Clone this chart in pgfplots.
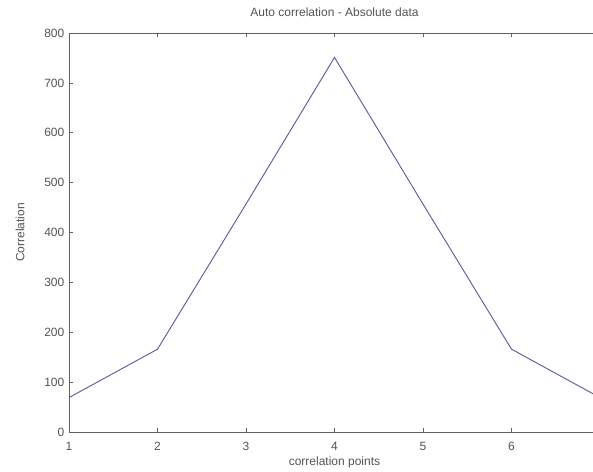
\documentclass[border=0pt]{standalone}
\usepackage{pgfplots}
\pgfplotsset{compat=1.18}
\usepackage{fontspec}
\setmainfont{Liberation Sans}
\definecolor{linecol}{rgb}{0.36,0.36,0.64}
\definecolor{axcol}{rgb}{0.38,0.38,0.38}
\definecolor{txtcol}{rgb}{0.33,0.33,0.33}
\begin{document}
\begin{tikzpicture}
\begin{axis}[
  name=ax,
  scale only axis,
  width=398.25pt, height=299.25pt,
  xmin=1, xmax=7, ymin=0, ymax=800,
  xtick={1,2,...,7}, ytick={0,100,...,800},
  tick align=inside,
  major tick length=3pt,
  tick style={axcol, line width=0.5pt},
  axis line style={axcol, line width=0.6pt},
  every tick label/.append style={font=\fontsize{9}{11}\selectfont, text=txtcol},
  /pgf/number format/assume math mode=true,
  title={Auto correlation - Absolute data},
  title style={font=\fontsize{9}{11}\selectfont, text=txtcol, yshift=3pt},
  xlabel={correlation points},
  ylabel={Correlation},
  label style={font=\fontsize{9}{11}\selectfont, text=txtcol},
  xlabel style={yshift=2pt},
  ylabel style={yshift=8pt},
  xticklabel style={yshift=-4pt},
]
\addplot[linecol, line width=0.7pt, mark=none] coordinates {
  (1,69) (2,166) (3,457) (4,751) (5,457) (6,166) (7,69)
};
\end{axis}
\pgfresetboundingbox
\path[use as bounding box] ([xshift=-51.75pt,yshift=-30pt]ax.south west) rectangle ([xshift=-5.25pt,yshift=24.75pt]ax.north east);
\end{tikzpicture}
\end{document}
